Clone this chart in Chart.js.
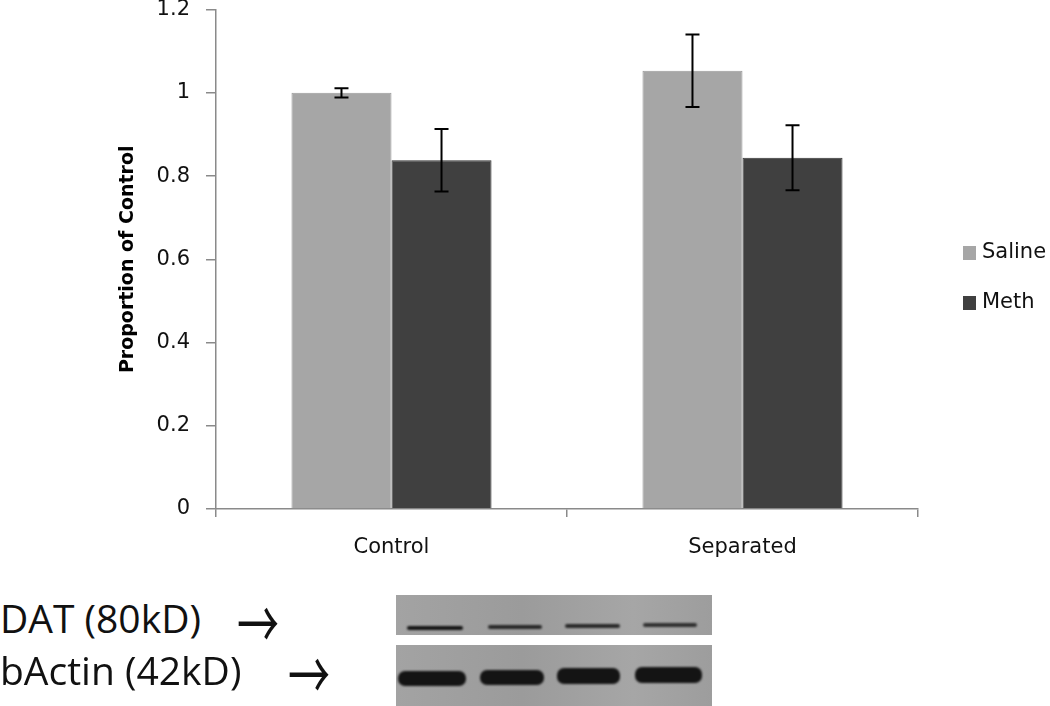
<!DOCTYPE html>
<html>
<head>
<meta charset="utf-8">
<script src="https://cdn.jsdelivr.net/npm/chart.js@4.4.0/dist/chart.umd.min.js"></script>
<style>
  body { margin: 0; background: #fff; width: 1050px; height: 706px; overflow: hidden; position: relative; font-family: "Open Sans", sans-serif; }
  #wrap { position: absolute; left: 0; top: -19px; width: 1050px; height: 594px; }
  .lbl { position: absolute; left: 0; font-size: 39px; color: #111; line-height: 1; white-space: nowrap; }
  .arr { position: absolute; font-family: "Noto Sans CJK JP"; font-size: 42px; line-height: 1; color: #111; transform: scale(1.0, 1.6); transform-origin: center; }
  .panel { position: absolute; left: 396px; width: 316px; background: linear-gradient(90deg, #a3a3a3, #9b9b9b 40%, #a6a6a6 75%, #9d9d9d); }
  .band { position: absolute; background: #141414; filter: blur(1.2px); }
</style>
</head>
<body>
<div id="wrap"><canvas id="chart" width="1050" height="594"></canvas></div>

<div class="lbl" style="top:598px">DAT (80kD)</div>
<div class="arr" style="left:237px;top:599px">&rarr;</div>
<div class="lbl" style="top:650px">bActin (42kD)</div>
<div class="arr" style="left:288px;top:650px">&rarr;</div>

<div class="panel" style="top:595px;height:40px">
  <div class="band" style="left:11px;top:31px;width:56px;height:4px;border-radius:2px"></div>
  <div class="band" style="left:92px;top:30px;width:54px;height:4px;border-radius:2px;opacity:.85"></div>
  <div class="band" style="left:169px;top:29px;width:55px;height:4px;border-radius:2px;opacity:.85"></div>
  <div class="band" style="left:247px;top:28px;width:54px;height:4px;border-radius:2px;opacity:.8"></div>
</div>
<div class="panel" style="top:645px;height:61px">
  <div class="band" style="left:2px;top:26px;width:68px;height:15px;border-radius:7px"></div>
  <div class="band" style="left:84px;top:25px;width:64px;height:15px;border-radius:7px"></div>
  <div class="band" style="left:161px;top:23px;width:63px;height:16px;border-radius:7px"></div>
  <div class="band" style="left:239px;top:22px;width:67px;height:16px;border-radius:7px"></div>
</div>

<script>
const categories = ['Control', 'Separated'];
const seriesNames = ['Saline', 'Meth'];
const salineValues = [1.0, 1.053];
const methValues = [0.838, 0.844];
const salineErrors = [0.011, 0.087];
const methErrors = [0.075, 0.078];
const yTicks = [0, 0.2, 0.4, 0.6, 0.8, 1, 1.2];
const colors = ['#a6a6a6', '#404040'];

const errorBars = {
  id: 'errorBars',
  afterDatasetsDraw(chart) {
    const ctx = chart.ctx;
    const y = chart.scales.y;
    ctx.save();
    ctx.strokeStyle = '#000';
    ctx.lineWidth = 2;
    chart.data.datasets.forEach((ds, i) => {
      const meta = chart.getDatasetMeta(i);
      meta.data.forEach((bar, j) => {
        const v = ds.data[j], e = ds.errors[j];
        const top = y.getPixelForValue(v + e);
        const bot = y.getPixelForValue(v - e);
        const x = bar.x;
        ctx.beginPath();
        ctx.moveTo(x, top); ctx.lineTo(x, bot);
        ctx.moveTo(x - 7, top); ctx.lineTo(x + 7, top);
        ctx.moveTo(x - 7, bot); ctx.lineTo(x + 7, bot);
        ctx.stroke();
      });
    });
    ctx.restore();
  }
};

// legend drawn by hand on the right, like the original
const sideLegend = {
  id: 'sideLegend',
  afterDraw(chart) {
    const ctx = chart.ctx;
    ctx.save();
    ctx.font = '21px "DejaVu Sans"';
    ctx.textBaseline = 'middle';
    chart.data.datasets.forEach((ds, i) => {
      const cy = 19 + 253 + i * 50;
      ctx.fillStyle = ds.backgroundColor;
      ctx.fillRect(963, cy - 7, 13, 14);
      ctx.fillStyle = '#111';
      ctx.fillText(ds.label, 982, cy);
    });
    ctx.restore();
  }
};

new Chart(document.getElementById('chart'), {
  type: 'bar',
  data: {
    labels: categories,
    datasets: [
      { label: seriesNames[0], data: salineValues, errors: salineErrors, backgroundColor: colors[0], borderColor: '#999', borderWidth: 1 },
      { label: seriesNames[1], data: methValues, errors: methErrors, backgroundColor: colors[1], borderColor: '#333', borderWidth: 1 }
    ]
  },
  options: {
    responsive: false,
    animation: false,
    layout: { padding: { left: 117, right: 132, top: 0, bottom: 0 } },
    plugins: { legend: { display: false }, tooltip: { enabled: false } },
    datasets: { bar: { categoryPercentage: 0.57, barPercentage: 1.0 } },
    scales: {
      x: {
        afterFit: (s) => { s.height = 66; },
        grid: { offset: true, drawOnChartArea: false, drawTicks: true, tickLength: 8, color: '#8a8a8a', lineWidth: 1.5 },
        border: { color: '#8a8a8a', width: 1.5 },
        ticks: { color: '#111', font: { family: 'DejaVu Sans', size: 21 }, padding: 18 }
      },
      y: {
        min: 0, max: 1.2,
        afterFit: (s) => { s.width = 99; },
        afterBuildTicks: (s) => { s.ticks = yTicks.map(v => ({ value: v })); },
        grid: { drawOnChartArea: false, drawTicks: true, tickLength: 10, color: '#8a8a8a', lineWidth: 1.5 },
        border: { color: '#8a8a8a', width: 1.5 },
        ticks: { color: '#111', font: { family: 'DejaVu Sans', size: 21 }, padding: 16, callback: (v) => String(v) },
        title: { display: true, text: 'Proportion of Control', color: '#000', font: { family: 'DejaVu Sans', size: 19, weight: 'bold' }, padding: { top: 0, bottom: 0 } }
      }
    }
  },
  plugins: [errorBars, sideLegend]
});
</script>
</body>
</html>
